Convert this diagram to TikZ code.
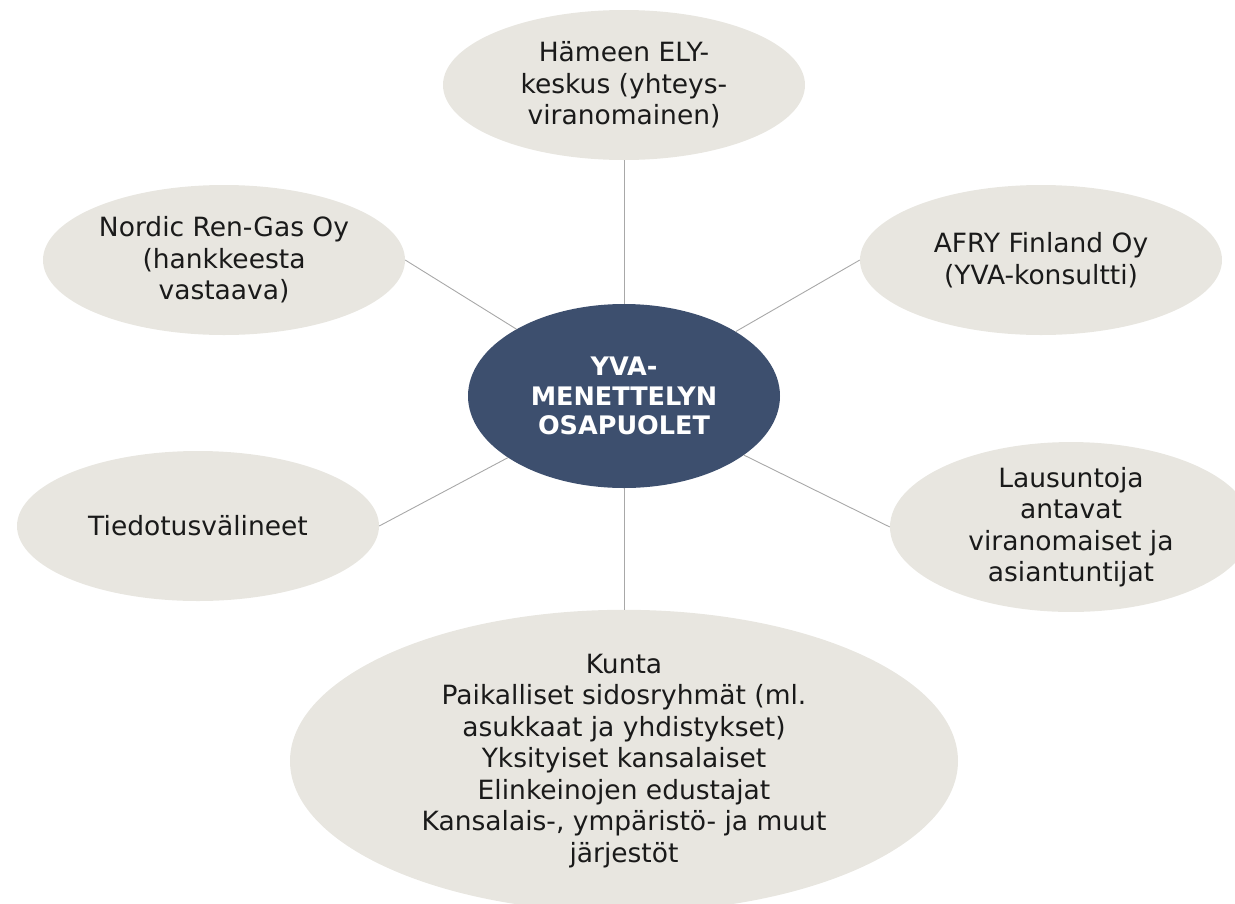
\documentclass[tikz,border=0pt]{standalone}
\usepackage{fontspec}
\setmainfont{DejaVu Sans}
\usetikzlibrary{shapes.geometric}
\definecolor{ovalgrey}{HTML}{E8E6E0}
\definecolor{hubblue}{HTML}{3D4F6E}
\definecolor{linkgrey}{HTML}{A8A8A8}
\definecolor{txt}{HTML}{1A1A1A}
\begin{document}
\begin{tikzpicture}[x=1pt,y=-1pt,
  oval/.style={ellipse,fill=ovalgrey,inner sep=0pt,align=center,text=txt,
    font=\fontsize{26.5}{31.5}\selectfont,minimum width=362pt,minimum height=150pt},
  hub/.style={ellipse,fill=hubblue,inner sep=0pt,align=center,text=white,
    font=\fontsize{25.5}{29.5}\selectfont\bfseries,minimum width=312pt,minimum height=184pt},
  link/.style={draw=linkgrey,line width=0.9pt}]
\useasboundingbox (0,0) rectangle (1235,903);
\clip (0,0) rectangle (1235,903);
\node[hub] (hub) at (624,396) {YVA-\\MENETTELYN\\OSAPUOLET};
\node[oval] (ely) at (624,85) {Hämeen ELY-\\keskus (yhteys-\\viranomainen)};
\node[oval] (nrg) at (224,260) {Nordic Ren-Gas Oy\\(hankkeesta\\vastaava)};
\node[oval] (afry) at (1041,260) {AFRY Finland Oy\\(YVA-konsultti)};
\node[oval] (media) at (198,526) {Tiedotusvälineet};
\node[oval] (laus) at (1071,527) {Lausuntoja\\antavat\\viranomaiset ja\\asiantuntijat};
\node[oval,minimum width=668pt,minimum height=286pt] (kunta) at (624,761)
  {Kunta\\Paikalliset sidosryhmät (ml.\\asukkaat ja yhdistykset)\\Yksityiset kansalaiset\\Elinkeinojen edustajat\\Kansalais-, ympäristö- ja muut\\järjestöt};
\draw[link] (hub) -- (ely.south);
\draw[link] (hub) -- (nrg.east);
\draw[link] (hub) -- (afry.west);
\draw[link] (hub) -- (media.east);
\draw[link] (hub) -- (laus.west);
\draw[link] (hub) -- (kunta.north);
\end{tikzpicture}
\end{document}
